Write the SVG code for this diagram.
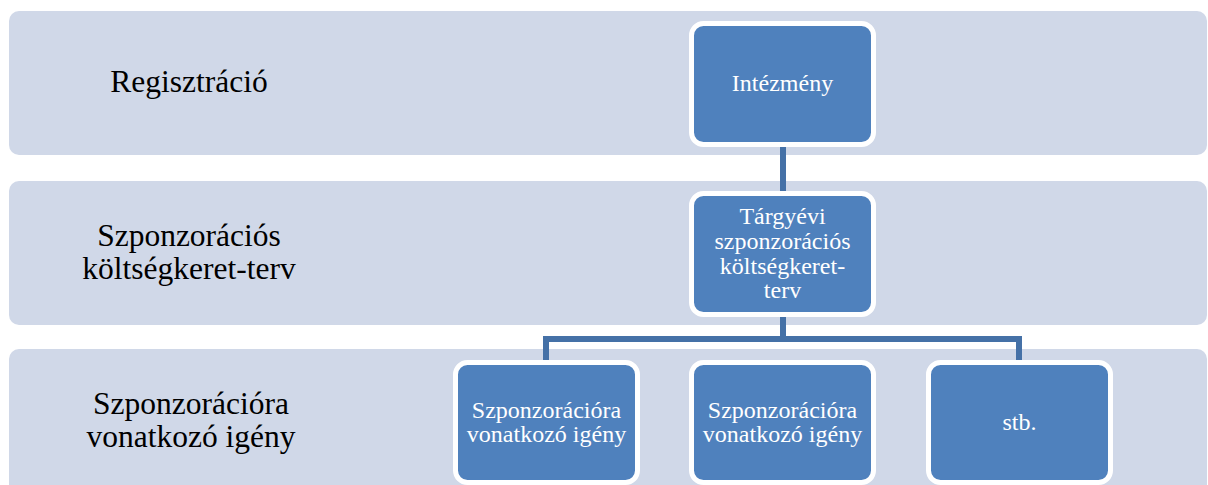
<svg xmlns="http://www.w3.org/2000/svg" width="1208" height="485" viewBox="0 0 1208 485">
<style>
.band{fill:#d0d8e8}
.box{fill:#4f81bd;stroke:#ffffff;stroke-width:5}
.lbl{font-family:"Liberation Serif","Times New Roman",serif;font-size:31.5px;fill:#000;text-anchor:middle}
.btx{font-family:"Liberation Serif","Times New Roman",serif;font-size:24px;fill:#ffffff;text-anchor:middle}
.con{fill:none;stroke:#4571a7;stroke-width:6}
</style>
<rect width="1208" height="485" fill="#ffffff"/>
<g id="band-registration">
<rect class="band" x="9" y="11" width="1198" height="144" rx="10"/>
<text class="lbl" x="189" y="92">Regisztráció</text>
</g>
<g id="band-budget">
<rect class="band" x="9" y="181" width="1198" height="144" rx="10"/>
<text class="lbl" x="189" y="246">Szponzorációs</text>
<text class="lbl" x="189" y="279">költségkeret-terv</text>
</g>
<g id="band-request">
<rect class="band" x="9" y="349" width="1198" height="160" rx="10"/>
<text class="lbl" x="191" y="414">Szponzorációra</text>
<text class="lbl" x="191" y="447">vonatkozó igény</text>
</g>
<g id="connectors">
<path class="con" d="M783,146 V192"/>
<path class="con" d="M783,316 V339"/>
<path class="con" d="M546,361 V339 H1019 V361"/>
</g>
<g id="node-intezmeny">
<rect class="box" x="691.5" y="23.5" width="182" height="121" rx="12"/>
<text class="btx" x="782.5" y="91">Intézmény</text>
</g>
<g id="node-budget">
<rect class="box" x="691.5" y="193.5" width="182" height="121" rx="12"/>
<text class="btx" x="782.5" y="224">Tárgyévi</text>
<text class="btx" x="782.5" y="249">szponzorációs</text>
<text class="btx" x="782.5" y="274">költségkeret-</text>
<text class="btx" x="782.5" y="298">terv</text>
</g>
<g id="node-request1">
<rect class="box" x="455.5" y="362.5" width="182" height="120" rx="12"/>
<text class="btx" x="546.5" y="418">Szponzorációra</text>
<text class="btx" x="546.5" y="442">vonatkozó igény</text>
</g>
<g id="node-request2">
<rect class="box" x="691.5" y="362.5" width="182" height="120" rx="12"/>
<text class="btx" x="782.5" y="418">Szponzorációra</text>
<text class="btx" x="782.5" y="442">vonatkozó igény</text>
</g>
<g id="node-stb">
<rect class="box" x="928.5" y="362.5" width="182" height="120" rx="12"/>
<text class="btx" x="1019.5" y="430">stb.</text>
</g>
</svg>
